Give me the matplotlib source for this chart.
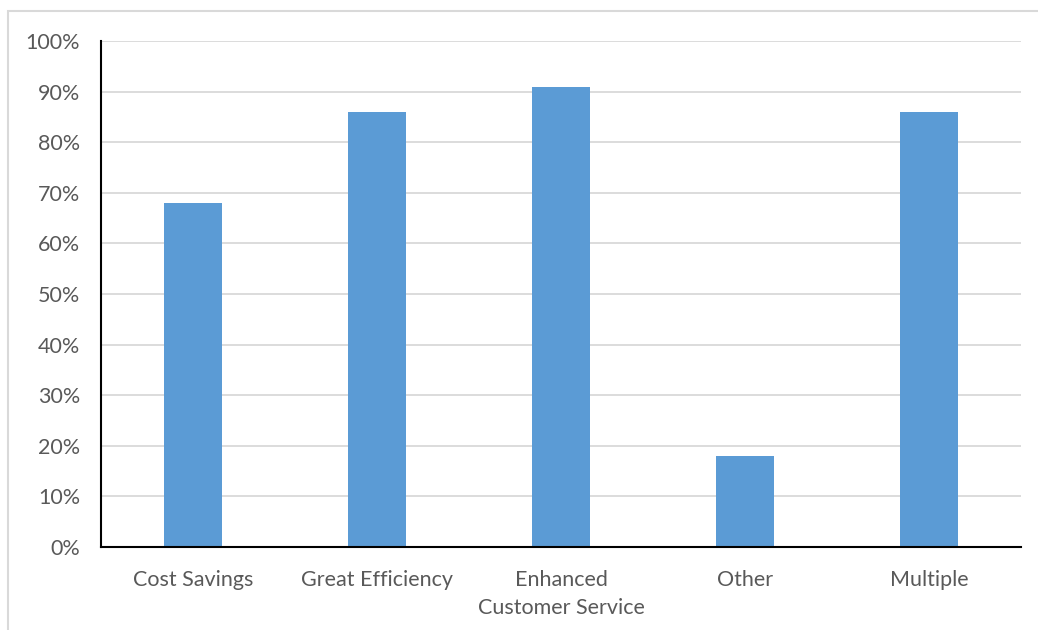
import matplotlib
matplotlib.use("Agg")
import matplotlib.pyplot as plt
from matplotlib.patches import Rectangle
from matplotlib.ticker import PercentFormatter, MultipleLocator

categories = ["Cost Savings", "Great Efficiency", "Enhanced\nCustomer Service", "Other", "Multiple"]
values = [68, 86, 91, 18, 86]

plt.rcParams['font.family'] = ['Lato', 'DejaVu Sans']
text_color = "#595959"

fig = plt.figure(figsize=(10.38, 6.30), dpi=100)
fig.patches.append(Rectangle((8/1038, -0.1), 1.2, 1.1 - 11/630, transform=fig.transFigure,
                             fill=False, edgecolor="#D9D9D9", linewidth=1.5, zorder=0))
ax = fig.add_axes([101/1038, 1 - 547/630, (1021 - 101)/1038, (547 - 41)/630])

x = range(len(categories))
ax.bar(x, values, width=0.31, color="#5B9BD5", zorder=3)
ax.set_xlim(-0.5, len(categories) - 0.5)
ax.set_ylim(0, 100)
ax.yaxis.set_major_locator(MultipleLocator(10))
ax.yaxis.set_major_formatter(PercentFormatter(decimals=0))
ax.set_xticks(list(x))
ax.set_xticklabels(categories, linespacing=1.5)
ax.grid(axis="y", color="#D9D9D9", linewidth=1.3, zorder=0)
ax.set_axisbelow(True)
for s in ["top", "right"]:
    ax.spines[s].set_visible(False)
for s in ["left", "bottom"]:
    ax.spines[s].set_color("black")
    ax.spines[s].set_linewidth(1.5)
    ax.spines[s].set_zorder(4)
ax.tick_params(axis="both", length=0, labelsize=15.5, colors=text_color)
ax.tick_params(axis="x", pad=16.5)
ax.tick_params(axis="y", pad=15)

fig.savefig("out.png", dpi=100)
